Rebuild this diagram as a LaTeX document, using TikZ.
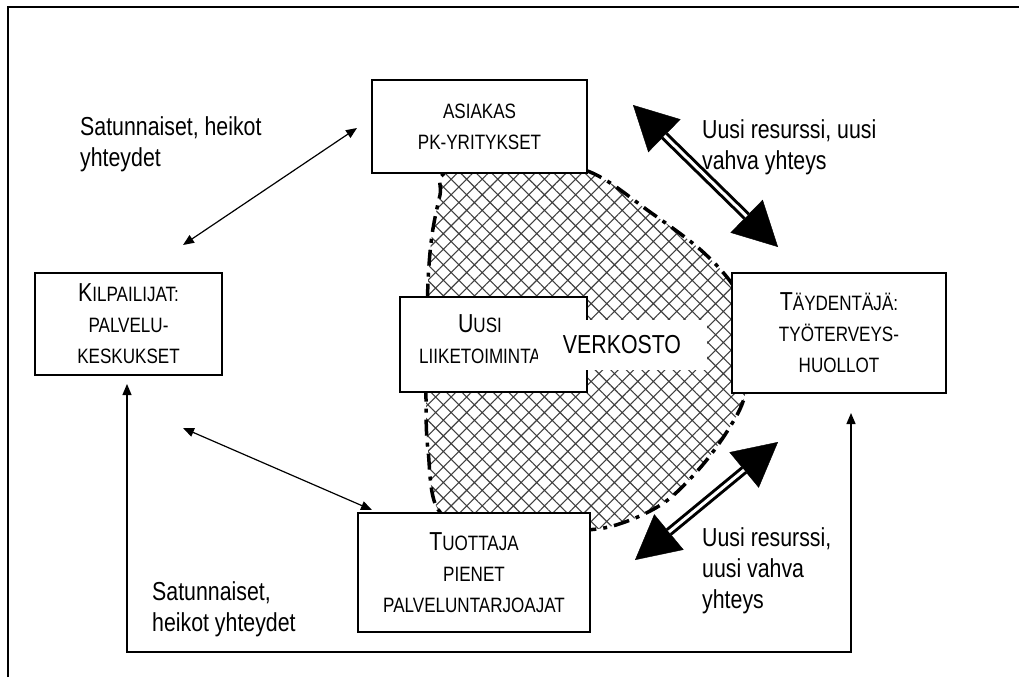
\documentclass[tikz,border=0pt]{standalone}
\usepackage{fontspec}
\setmainfont[FakeStretch=0.82]{Liberation Sans}
\usetikzlibrary{arrows.meta,patterns.meta,calc}
% reduced capitals for the small-caps look of the box texts
\newcommand\smc[1]{{\fontsize{20.8}{31}\selectfont #1}}

\begin{document}
\begin{tikzpicture}[x=1pt,y=-1pt,
  font=\fontsize{26}{31}\selectfont,
  box/.style={draw, line width=1.5pt, fill=white, align=center, inner sep=0pt},
  weak/.style={line width=1.2pt, {Triangle[length=11pt,width=9pt]}-{Triangle[length=11pt,width=9pt]}},
  headtips/.style={line width=0.4pt, {Triangle[length=44pt,width=46pt]}-{Triangle[length=44pt,width=46pt]}},
  shaft/.style={line width=3pt, double=white, double distance=3pt, shorten <=44pt, shorten >=44pt},
  note/.style={anchor=north west, align=left, inner sep=0pt},
  netline/.style={line width=3.5pt, dash pattern=on 16pt off 7pt on 4pt off 7pt}
]
\useasboundingbox (0,0) rectangle (1019,677);

% outer frame
\draw[line width=1.6pt] (8,677) -- (8,7) -- (1019,7);

% the network area
\def\netarea{(447,172) (520,160) (590,172) (650,212) (703,252) (737,292) (750,340) (745,395) (728,430) (700,468) (665,502) (625,522) (585,530) (500,528) (440,512) (428,450) (426,400) (427,345) (428,282) (432,235) (440,195)}
\fill[pattern={Hatch[angle=45,distance=11pt,line width=1.1pt]}, pattern color=black!75]
  plot[smooth cycle, tension=0.55] coordinates {\netarea};
\draw[netline] plot[smooth cycle, tension=0.55] coordinates {\netarea};

% boxes
\node[box, minimum width=215pt, minimum height=93pt] (asiakas) at (479.5,126.5)
  {\smc{ASIAKAS}\\\smc{PK-YRITYKSET}};
\node[box, minimum width=187pt, minimum height=102pt] (kilp) at (128.5,324)
  {K\smc{ILPAILIJAT:}\\\smc{PALVELU-}\\\smc{KESKUKSET}};
\node[box, minimum width=214pt, minimum height=120pt] (tayd) at (839,333)
  {T\smc{ÄYDENTÄJÄ:}\\\smc{TYÖTERVEYS-}\\\smc{HUOLLOT}};
\node[box, minimum width=187pt, minimum height=95pt] (uusi) at (493.5,344.5) {};
\node[align=center, inner sep=0pt] (uusitxt) at (480,339) {U\smc{USI}\\\smc{LIIKETOIMINTA}};
\node[box, minimum width=232pt, minimum height=119pt] (tuottaja) at (474,572.5)
  {T\smc{UOTTAJA}\\\smc{PIENET}\\\smc{PALVELUNTARJOAJAT}};

\node[fill=white, minimum width=169pt, minimum height=50pt, inner sep=0pt] (verkosto) at (622,345) {VERKOSTO};

% weak links
\coordinate (w1a) at (183,245); \coordinate (w1b) at (357,128);
\coordinate (w2a) at (183,428); \coordinate (w2b) at (372,510);
\draw[weak] (w1a) -- (w1b);
\draw[weak] (w2a) -- (w2b);

% link below the boxes
\coordinate (l1) at (127,384); \coordinate (l2) at (127,652);
\coordinate (l3) at (851,652); \coordinate (l4) at (851,413);
\draw[weak] (l1) -- (l2) -- (l3) -- (l4);

% strong links
\coordinate (s1a) at (633,105); \coordinate (s1b) at (778,247);
\coordinate (s2a) at (778,442); \coordinate (s2b) at (635,560);
\draw[headtips] (s1a) -- (s1b);
\draw[shaft] (s1a) -- (s1b);
\draw[headtips] (s2a) -- (s2b);
\draw[shaft] (s2a) -- (s2b);

% labels
\node[note] (n1) at (80,116) {Satunnaiset, heikot\\yhteydet};
\node[note] (n2) at (152,581) {Satunnaiset,\\heikot yhteydet};
\node[note] (n3) at (702,119) {Uusi resurssi, uusi\\vahva yhteys};
\node[note] (n4) at (702,527) {Uusi resurssi,\\uusi vahva\\yhteys};
\end{tikzpicture}
\end{document}
